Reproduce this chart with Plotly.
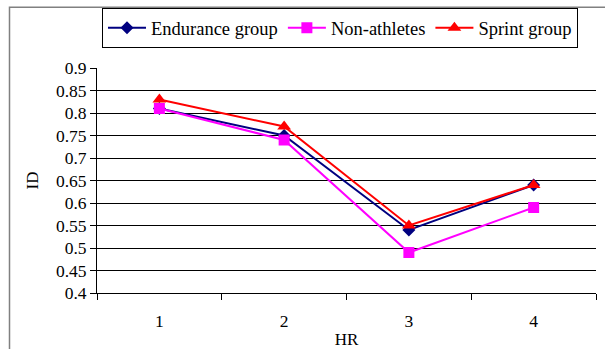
import plotly.graph_objects as go

hr = [1, 2, 3, 4]
endurance = [0.81, 0.75, 0.54, 0.64]
non_athletes = [0.81, 0.74, 0.49, 0.59]
sprint = [0.83, 0.77, 0.55, 0.64]
y_ticks = [0.4, 0.45, 0.5, 0.55, 0.6, 0.65, 0.7, 0.75, 0.8, 0.85, 0.9]
y_labels = ["0.4", "0.45", "0.5", "0.55", "0.6", "0.65", "0.7", "0.75", "0.8", "0.85", "0.9"]

FONT = "Liberation Serif"

fig = go.Figure()
fig.add_trace(go.Scatter(x=hr, y=endurance, name="Endurance group", mode="lines+markers",
                         line=dict(color="#000080", width=2),
                         marker=dict(symbol="diamond", size=10, color="#000080")))
fig.add_trace(go.Scatter(x=hr, y=non_athletes, name="Non-athletes", mode="lines+markers",
                         line=dict(color="#FF00FF", width=2),
                         marker=dict(symbol="square", size=11, color="#FF00FF")))
fig.add_trace(go.Scatter(x=hr, y=sprint, name="Sprint group", mode="lines+markers",
                         line=dict(color="#FF0000", width=2),
                         marker=dict(symbol="triangle-up", size=12, color="#FF0000")))

fig.update_layout(
    width=605, height=349,
    margin=dict(l=97, r=9, t=67, b=56),
    paper_bgcolor="white", plot_bgcolor="white",
    font=dict(family=FONT, size=17, color="black"),
    showlegend=True,
    legend=dict(orientation="h", x=0.01, y=1.26, xanchor="left", yanchor="top",
                bordercolor="black", borderwidth=1, font=dict(family=FONT, size=18.5),
                itemwidth=38, tracegroupgap=0),
    xaxis=dict(range=[0.5, 4.5], tickmode="array", tickvals=hr, ticktext=[str(v) for v in hr],
               showgrid=False, zeroline=False, showline=True, linecolor="black", linewidth=1,
               ticks="", ticklabelstandoff=12, automargin=False,
               minor=dict(ticks="outside", tick0=0.5, dtick=1, ticklen=6, tickcolor="black", showgrid=False),
               title=dict(text="HR", standoff=8, font=dict(family=FONT, size=17)),
               tickfont=dict(family=FONT, size=17.5)),
    yaxis=dict(range=[0.4, 0.9], tickmode="array", tickvals=y_ticks, ticktext=y_labels,
               showgrid=True, gridcolor="black", gridwidth=1, zeroline=False,
               showline=True, linecolor="black", linewidth=1, automargin=False,
               ticks="outside", ticklen=6, tickcolor="black",
               title=dict(text="ID", standoff=12, font=dict(family=FONT, size=17)),
               tickfont=dict(family=FONT, size=17.5)),
    shapes=[dict(type="rect", xref="paper", yref="paper",
                 x0=(9.5 - 97) / 499, x1=1.5, y0=-0.6, y1=(293 - 6) / 226,
                 line=dict(color="#808080", width=1.5), fillcolor="rgba(0,0,0,0)", layer="below")],
)

fig.write_html("out.html")
